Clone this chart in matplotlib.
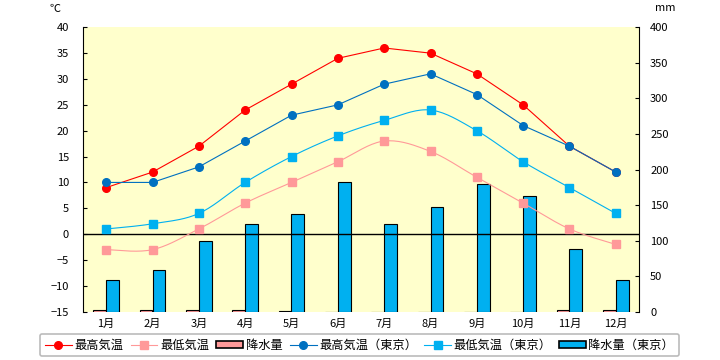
import matplotlib
matplotlib.use('Agg')
import matplotlib.pyplot as plt
import numpy as np
from matplotlib.patches import Patch
from matplotlib.lines import Line2D

plt.rcParams['font.family'] = ['Noto Sans CJK JP', 'DejaVu Sans']

# データ
months = ['1月', '2月', '3月', '4月', '5月', '6月', '7月', '8月', '9月', '10月', '11月', '12月']
max_temp = [9, 12, 17, 24, 29, 34, 36, 35, 31, 25, 17, 12]
min_temp = [-3, -3, 1, 6, 10, 14, 18, 16, 11, 6, 1, -2]
rain = [3, 2, 3, 2, 1, 0, 0, 0, 0, 0, 2, 3]
max_tokyo = [10, 10, 13, 18, 23, 25, 29, 31, 27, 21, 17, 12]
min_tokyo = [1, 2, 4, 10, 15, 19, 22, 24, 20, 14, 9, 4]
rain_tokyo = [44, 58, 99, 124, 137, 183, 124, 147, 179, 163, 88, 44]


def smooth(x, y, n=20):
    # Excel風のなめらかな線 (Catmull-Rom)
    p = np.column_stack([x, y]).astype(float)
    p = np.vstack([p[0], p, p[-1]])
    out = []
    t = np.linspace(0, 1, n)[:, None]
    for i in range(1, len(p) - 2):
        p0, p1, p2, p3 = p[i - 1], p[i], p[i + 1], p[i + 2]
        c1 = p1 + (p2 - p0) / 6
        c2 = p2 - (p3 - p1) / 6
        seg = ((1 - t) ** 3) * p1 + 3 * ((1 - t) ** 2) * t * c1 + 3 * (1 - t) * t ** 2 * c2 + t ** 3 * p2
        out.append(seg if i == 1 else seg[1:])
    out = np.vstack(out)
    return out[:, 0], out[:, 1]


fig = plt.figure(figsize=(7.2, 3.6), dpi=100)
ax_bar = fig.add_axes([83 / 720, 1 - 311.7 / 360, 556 / 720, 284.4 / 360])
ax = ax_bar.twinx()

x = np.arange(len(months))
w = 0.28

# 降水量 (右軸)
ax_bar.set_facecolor('#FFFFCC')
ax_bar.bar(x - w / 2, rain, w, color='#FF9999', edgecolor='black', linewidth=0.8)
ax_bar.bar(x + w / 2, rain_tokyo, w, color='#00B0F0', edgecolor='black', linewidth=0.8)
ax_bar.set_ylim(0, 400)
ax_bar.set_yticks(range(0, 401, 50))
ax_bar.yaxis.tick_right()
ax_bar.tick_params(axis='y', direction='in', length=3, pad=8, labelsize=8, right=True, left=False)

# 気温 (左軸)
ax.yaxis.tick_left()
ax.patch.set_visible(False)
ax.axhline(0, color='black', linewidth=1)
ms = 5.5
ax.plot(x, max_temp, color='#FF0000', lw=0.8, marker='o', ms=ms)
sx, sy = smooth(x, min_temp)
ax.plot(sx, sy, color='#FF9999', lw=0.8)
ax.plot(x, min_temp, ls='none', color='#FF9999', marker='s', ms=ms)
ax.plot(x, max_tokyo, color='#0070C0', lw=0.8, marker='o', ms=ms)
sx, sy = smooth(x, min_tokyo)
ax.plot(sx, sy, color='#00B0F0', lw=0.8)
ax.plot(x, min_tokyo, ls='none', color='#00B0F0', marker='s', ms=ms)
ax.set_ylim(-15, 40)
ax.set_yticks(range(-15, 41, 5))
ax.tick_params(axis='y', direction='in', length=3, pad=10, labelsize=8, left=True, right=False)

ax.set_xlim(-0.5, len(months) - 0.5)
ax_bar.set_xticks(x)
ax_bar.set_xticklabels(months)
ax_bar.tick_params(axis='x', length=0, pad=5, labelsize=8)

for a in (ax, ax_bar):
    for s in ('top', 'bottom', 'left', 'right'):
        a.spines[s].set_visible(False)
ax.spines['left'].set_visible(True)
ax.spines['right'].set_visible(True)

fig.text(55 / 720, 1 - 9 / 360, '℃', fontsize=8, ha='center', va='center')
fig.text(665 / 720, 1 - 8 / 360, 'mm', fontsize=8, ha='center', va='center')

handles = [
    Line2D([], [], color='#FF0000', lw=0.8, marker='o', ms=ms),
    Line2D([], [], color='#FF9999', lw=0.8, marker='s', ms=ms),
    Patch(facecolor='#FF9999', edgecolor='black', linewidth=1.2),
    Line2D([], [], color='#0070C0', lw=0.8, marker='o', ms=ms),
    Line2D([], [], color='#00B0F0', lw=0.8, marker='s', ms=ms),
    Patch(facecolor='#00B0F0', edgecolor='black', linewidth=1.2),
]
labels = ['最高気温', '最低気温', '降水量', '最高気温（東京）', '最低気温（東京）', '降水量（東京）']
leg = fig.legend(handles, labels, loc='center', ncol=6, mode='expand',
                 bbox_to_anchor=(40 / 720, 3 / 360, 639 / 720, 24 / 360),
                 bbox_transform=fig.transFigure, borderaxespad=0,
                 fontsize=8.8, handlelength=2.2, handleheight=0.5, handletextpad=0.2,
                 columnspacing=1.2, frameon=True, fancybox=True,
                 edgecolor='#BBBBBB', framealpha=1)
leg.get_frame().set_linewidth(1.2)

plt.savefig('out.png', dpi=100)
